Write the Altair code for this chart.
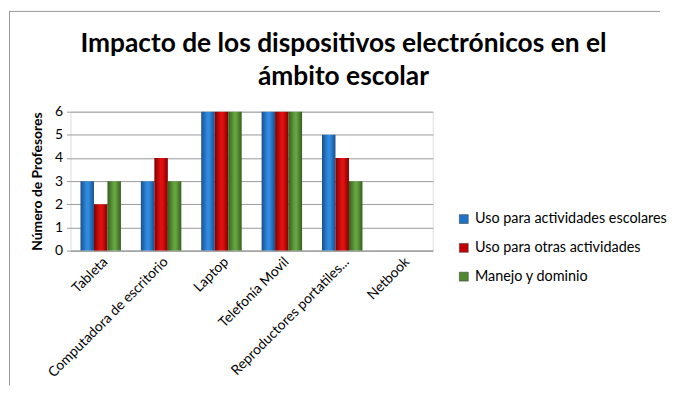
import altair as alt
import pandas as pd

categories = ["Tableta", "Computadora de escritorio", "Laptop", "Telefonía Movil",
              "Reproductores portatiles...", "Netbook"]
series = ["Uso para actividades escolares", "Uso para otras actividades", "Manejo y dominio"]
escolares = [3, 3, 6, 6, 5, 0]
otras = [2, 4, 6, 6, 4, 0]
manejo = [3, 3, 6, 6, 3, 0]
title_lines = ["Impacto de los dispositivos electrónicos en el", "ámbito escolar"]
colors = ["#1E73C8", "#C00000", "#4F8A2E"]
edge_colors = ["#1B4F8C", "#7E0000", "#355E1F"]
center_colors = ["#2F8BE0", "#E01010", "#64A340"]

rows = []
for i, c in enumerate(categories):
    for s, vals in zip(series, [escolares, otras, manejo]):
        rows.append({"Dispositivo": c, "Serie": s, "Valor": vals[i]})
df = pd.DataFrame(rows)
one = pd.DataFrame({"k": [0]})

font = "Lato"

x_enc = alt.X("Dispositivo:N", sort=categories,
              scale=alt.Scale(domain=categories, paddingInner=0.33, paddingOuter=0.165),
              axis=alt.Axis(title=None, labelAngle=-45, labelFont=font, labelFontSize=14,
                            labelColor="#000", ticks=False, domain=True, domainColor="#999",
                            labelPadding=4, labelLimit=200))
xoff_enc = alt.XOffset("Serie:N", sort=series,
                       scale=alt.Scale(domain=series, paddingInner=0))
y_enc = alt.Y("Valor:Q", scale=alt.Scale(domain=[0, 6]),
              axis=alt.Axis(title="Número de Profesores", values=[0, 1, 2, 3, 4, 5, 6],
                            titleFont=font, titleFontSize=14, titleFontWeight="bold",
                            titleColor="#000", labelFont=font, labelFontSize=14,
                            labelColor="#000", domain=False, tickColor="#999", tickSize=4,
                            gridColor="#999", titlePadding=10, labelPadding=4))

layers = []
legend_layer = alt.Chart(df).mark_bar(opacity=0).encode(
    x=x_enc, xOffset=xoff_enc, y=y_enc,
    color=alt.Color("Serie:N", sort=series,
                    scale=alt.Scale(domain=series, range=colors),
                    legend=alt.Legend(title=None, orient="none", legendX=389, legendY=101,
                                      symbolType="square", symbolSize=80, symbolOpacity=1,
                                      symbolStrokeWidth=0.6, symbolStrokeColor="#444",
                                      labelFont=font, labelFontSize=14.5, labelColor="#000",
                                      rowPadding=14, labelLimit=280)),
)
layers.append(legend_layer)

for s, edge, center in zip(series, edge_colors, center_colors):
    grad = alt.LinearGradient(
        gradient="linear", x1=0, y1=0, x2=1, y2=0,
        stops=[alt.GradientStop(offset=0, color=edge),
               alt.GradientStop(offset=0.45, color=center),
               alt.GradientStop(offset=0.6, color=center),
               alt.GradientStop(offset=1, color=edge)])
    layers.append(
        alt.Chart(df).transform_filter(alt.datum.Serie == s)
        .mark_bar(color=grad)
        .encode(x=x_enc, xOffset=xoff_enc, y=y_enc)
    )

# chart frame (top and left edges, as in the reference crop)
frame_top = alt.Chart(one).mark_rule(color="#999", strokeWidth=1).encode(
    x=alt.value(-62), x2=alt.value(594), y=alt.value(-101))
frame_left = alt.Chart(one).mark_rule(color="#999", strokeWidth=1).encode(
    x=alt.value(-61.5), y=alt.value(-101), y2=alt.value(276))
layers += [frame_top, frame_left]

# chart title drawn as text inside the frame
for line, yy in zip(title_lines, [-68, -35]):
    layers.append(
        alt.Chart(one).mark_text(text=line, font=font, fontSize=26.5, fontWeight="bold",
                                 color="#000", align="center", baseline="middle")
        .encode(x=alt.value(275), y=alt.value(yy))
    )

chart = alt.layer(*layers).properties(
    width=365, height=140,
    padding={"left": 0, "top": 1, "right": 0, "bottom": 0},
).configure_view(stroke=None).configure(background="white")

chart.save("out.html", embed_options={"renderer": "svg", "actions": False})
